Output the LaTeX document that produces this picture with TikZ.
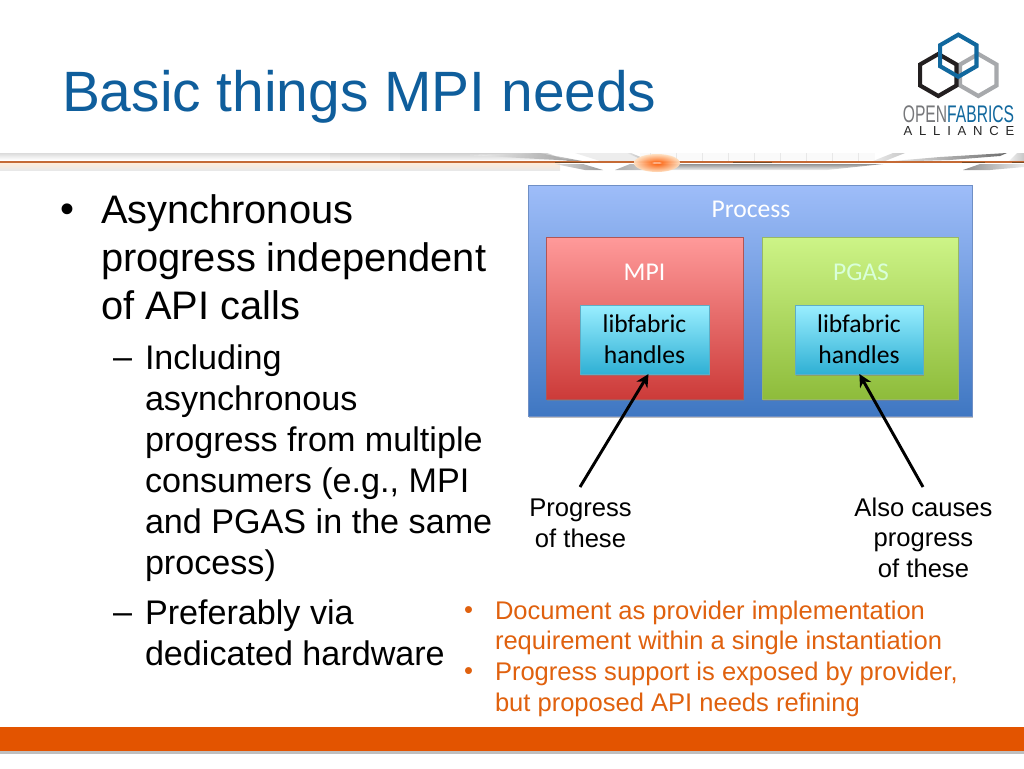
\documentclass[tikz,border=0pt]{standalone}
\usepackage{fontspec}
\setmainfont{Liberation Sans}
\newfontfamily\calfont{Carlito}
\usetikzlibrary{shadows,arrows.meta}
\definecolor{titleblue}{HTML}{0F5E9C}
\definecolor{footorange}{HTML}{E35400}
\definecolor{noteorange}{HTML}{E0610E}
\definecolor{logoblue}{HTML}{11689E}
\definecolor{logogray}{HTML}{A7A9AC}
\definecolor{logoblack}{HTML}{231F20}
\definecolor{logotext}{HTML}{77787B}
\definecolor{proctop}{HTML}{9EBDF9}
\definecolor{procbot}{HTML}{3F77C2}
\definecolor{procedge}{HTML}{6F8FC5}
\definecolor{mpitop}{HTML}{FF9A9A}
\definecolor{mpibot}{HTML}{CC3B39}
\definecolor{mpiedge}{HTML}{B05555}
\definecolor{pgastop}{HTML}{CDF487}
\definecolor{pgasbot}{HTML}{8EBC3B}
\definecolor{pgasedge}{HTML}{98B865}
\definecolor{libtop}{HTML}{9AEEFF}
\definecolor{libbot}{HTML}{2FB0D4}
\definecolor{libedge}{HTML}{5FADC5}
\definecolor{bandline}{HTML}{C56A35}
\definecolor{banddark}{HTML}{7A4A25}
\tikzset{
  x=0.75pt,y=-0.75pt,
  txt/.style={inner sep=0pt,outer sep=0pt,anchor=north west,align=left},
  titletxt/.style={txt,text=titleblue,font=\fontsize{42.67}{50}\selectfont},
  lvlone/.style={txt,font=\fontsize{29.87}{36}\selectfont},
  lvltwo/.style={txt,font=\fontsize{25.6}{30.75}\selectfont},
  notetxt/.style={txt,text=noteorange,font=\fontsize{19.15}{23}\selectfont},
  caption/.style={inner sep=0pt,outer sep=0pt,anchor=north,align=center,font=\fontsize{19.2}{22.9}\selectfont},
  boxbase/.style={inner sep=0pt,outer sep=0pt,line width=0.4pt,drop shadow={shadow xshift=0.6pt,shadow yshift=-1.8pt,opacity=.5}},
  procbox/.style={boxbase,draw=procedge,top color=proctop,bottom color=procbot},
  mpibox/.style={boxbase,draw=mpiedge,top color=mpitop,bottom color=mpibot},
  pgasbox/.style={boxbase,draw=pgasedge,top color=pgastop,bottom color=pgasbot},
  libbox/.style={boxbase,draw=libedge,top color=libtop,bottom color=libbot,align=center,font=\calfont\fontsize{19.2}{23.2}\selectfont,text=black},
  whitelbl/.style={inner sep=0pt,text=white,font=\calfont\fontsize{19.2}{23}\selectfont},
  arr/.style={line width=2.2pt,-{Stealth[length=9.5pt,width=9.5pt,inset=3pt]},black},
  hexa/.style={line width=3.1pt,line join=miter}
}
\begin{document}
\begin{tikzpicture}
\useasboundingbox (0,0) rectangle (1024,768);
\fill[white] (0,0) rectangle (1024,768);

% header band: upper part
\shade[top color=black!14,bottom color=white] (0,153) rectangle (330,160);
\shade[top color=black!16,bottom color=black!2] (330,153) rectangle (400,160);
\shade[top color=black!18,bottom color=black!4] (400,153) -- (547,153) -- (567,160) -- (400,160) -- cycle;
\shade[left color=black!6,right color=black!38] (470,155) -- (540,153) -- (578,161) -- (520,158) -- cycle;
\shade[top color=black!18,bottom color=black!42] (556,156) -- (582,161) -- (568,161) -- cycle;
\fill[black!7] (575,153) -- (627,153) -- (646,161) -- (600,161) -- cycle;
\shade[left color=black!10,right color=black!32] (627,153) -- (631,153) -- (650,161) -- (645,161) -- cycle;
\fill[black!2] (640,153) rectangle (875,160);
\foreach \gx in {650,676,...,870}{\draw[black!9,line width=.5pt] (\gx,153) -- (\gx,161);}
\shade[left color=black!8,right color=black!22] (873,161) -- (893,153) -- (905,153) -- (885,161) -- cycle;
\shade[left color=black!8,right color=black!58] (893,161) -- (940,157) -- (1007,153) -- (1000,156) -- (950,160) -- (915,161) -- cycle;
\shade[left color=black!6,right color=black!22] (1009,161) -- (1017,153) -- (1024,153) -- (1024,161) -- cycle;
% header band: lower part
\shade[top color=orange!15,bottom color=black!9] (0,163) rectangle (560,170);
\shade[left color=black!14,right color=black!40] (555,164) -- (583,164) -- (603,170) -- (585,170) -- cycle;
\shade[left color=black!32,right color=black!12] (615,170) -- (630,164) -- (673,164) -- (660,170) -- cycle;
\shade[top color=black!42,bottom color=black!6] (660,164) -- (883,164) -- (827,170) -- (650,170) -- cycle;
\shade[left color=black!45,right color=black!8] (963,170) -- (980,164) -- (1024,164) -- (1024,167) -- (990,170) -- cycle;
% line and glow
\fill[bandline] (0,161) rectangle (1024,163);
\fill[banddark] (555,161.6) rectangle (590,163.4);
\fill[banddark] (733,161.6) rectangle (772,163.4);
\fill[banddark] (962,161.6) rectangle (985,163.4);
\fill[banddark] (1012,161.6) rectangle (1024,163.4);
\shade[inner color=orange!70!red,outer color=orange!25,opacity=.95] (657,163) ellipse (23 and 9);
\fill[white,opacity=.45] (657,163) ellipse (5 and 1);

% footer
\fill[black!25] (0,751) rectangle (1024,754);
\fill[footorange] (0,727) rectangle (1024,751);

% title
\node[titletxt] (title) at (62,70) {Basic things MPI needs};

% logo
\coordinate (hexg) at (978.3,75);
\coordinate (hexk) at (938.3,75);
\coordinate (hexb) at (958.3,55.7);
\foreach \c/\col in {hexg/logogray,hexk/logoblack,hexb/logoblue}{
  \draw[hexa,draw=\col] (\c) ++(0,-21) -- ++(18.2,10.5) -- ++(0,21) -- ++(-18.2,10.5) -- ++(-18.2,-10.5) -- ++(0,-21) -- cycle;
}
\node[inner sep=0pt,anchor=center,font=\fontsize{18}{18}\selectfont] (logoname) at (958.5,114.5) {\scalebox{.652}[1]{\textcolor{logotext}{OPEN}\textcolor{logoblue}{FABRICS}}};
\node[inner sep=0pt,anchor=center,font=\fontsize{9.8}{10}\selectfont,text=black!85] (logosub) at (959,131) {A\hspace{5.1pt}L\hspace{5.1pt}L\hspace{5.1pt}I\hspace{5.1pt}A\hspace{5.1pt}N\hspace{5.1pt}C\hspace{5.1pt}E};

% left text
\node[lvlone] (bulA) at (60,195) {\vphantom{Ag}•};
\node[lvlone] (txtA) at (101,195) {Asynchronous\\progress independent\\of API calls};
\node[lvltwo] (dashA) at (113,345.5) {\vphantom{Ig}–};
\node[lvltwo] (txtB) at (145,345) {Including\\asynchronous\\progress from multiple\\consumers (e.g., MPI\\and PGAS in the same\\process)};
\node[lvltwo] (dashB) at (113,600) {\vphantom{Pg}–};
\node[lvltwo] (txtC) at (145,599.5) {Preferably via\\dedicated hardware};

% diagram
\node[procbox,minimum width=333pt,minimum height=173.25pt] (proc) at (750.5,300.5) {};
\node[whitelbl] (proclbl) at (751,209) {Process};
\node[mpibox,minimum width=147.75pt,minimum height=121.5pt] (mpi) at (644.5,318) {};
\node[whitelbl] (mpilbl) at (644.5,272) {MPI};
\node[pgasbox,minimum width=147pt,minimum height=121.5pt] (pgas) at (860.5,318) {};
\node[whitelbl,text=white!85!green] (pgaslbl) at (861,272) {PGAS};
\node[libbox,minimum width=96.75pt,minimum height=51.75pt] (libA) at (644.5,339.5) {libfabric\\handles};
\node[libbox,minimum width=96pt,minimum height=51.75pt] (libB) at (859,339.5) {libfabric\\handles};

% captions
\node[caption] (capA) at (580.5,499) {Progress\\of these};
\node[caption] (capB) at (923.5,497.5) {Also causes\\progress\\of these};
\coordinate (startA) at (580,487);
\coordinate (startB) at (923,487);
\draw[arr] (startA) -- ([xshift=3pt]libA.south);
\draw[arr] (startB) -- ([xshift=0.3pt]libB.south);

% notes
\node[notetxt] (bulN1) at (464,600.5) {\vphantom{Dg}•};
\node[notetxt] (note1) at (495,600.5) {Document as provider implementation\\requirement within a single instantiation};
\node[notetxt] (bulN2) at (464,662) {\vphantom{Pg}•};
\node[notetxt] (note2) at (495,662) {Progress support is exposed by provider,\\but proposed API needs refining};
\end{tikzpicture}
\end{document}
